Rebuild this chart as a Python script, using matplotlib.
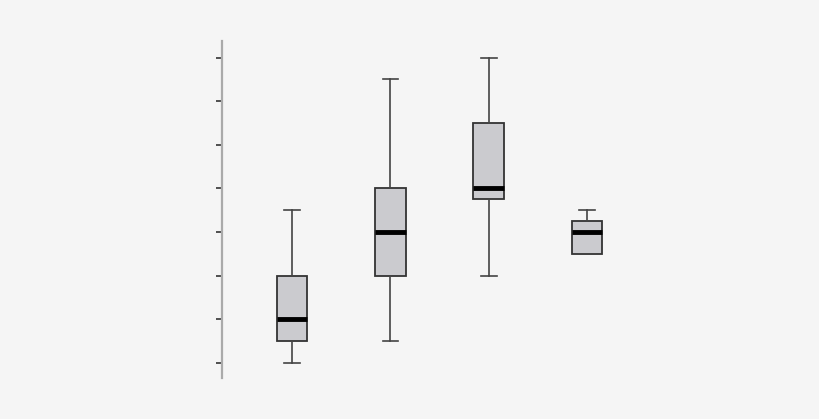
import numpy as np
import matplotlib
matplotlib.use('Agg')
import matplotlib.pyplot as plt

# values (y ticks have no labels, unit = one tick step)
groups = ['A', 'B', 'C', 'D']
whisker_low = [0.0, 0.5, 2.0, 2.5]
q1 = [0.5, 2.0, 3.75, 2.5]
median = [1.0, 3.0, 4.0, 3.0]
q3 = [2.0, 4.0, 5.5, 3.25]
whisker_high = [3.5, 6.5, 7.0, 3.5]
y_ticks = [0, 1, 2, 3, 4, 5, 6, 7]

bg = '#f5f5f5'
fig = plt.figure(figsize=(8.2, 4.19), dpi=100, facecolor=bg)
ax = fig.add_axes([222 / 820, 41 / 419, (650 - 222) / 820, (378 - 41) / 419])
ax.set_facecolor(bg)

stats = []
for i, g in enumerate(groups):
    stats.append({'label': g, 'whislo': whisker_low[i], 'q1': q1[i], 'med': median[i],
                  'q3': q3[i], 'whishi': whisker_high[i], 'fliers': []})

ax.bxp(stats, positions=np.arange(1, len(groups) + 1), widths=0.31, capwidths=0.16,
       patch_artist=True, showfliers=False,
       boxprops=dict(facecolor='#cbcbcf', edgecolor='#333333', linewidth=1.3),
       medianprops=dict(color='black', linewidth=3.5, solid_capstyle='butt'),
       whiskerprops=dict(color='#444444', linewidth=1.2),
       capprops=dict(color='#444444', linewidth=1.2))

ax.set_xlim(0.288, 4.64)
ax.set_ylim(-0.35, 7.38)
ax.set_yticks(y_ticks)
ax.set_yticklabels([])
ax.set_xticks([])
ax.tick_params(axis='y', direction='out', length=4, width=1.2, color='#333333')
for s in ['top', 'right', 'bottom']:
    ax.spines[s].set_visible(False)
ax.spines['left'].set_color('#aaaaaa')
ax.spines['left'].set_linewidth(1.6)

fig.savefig('out.png', dpi=100, facecolor=bg)
